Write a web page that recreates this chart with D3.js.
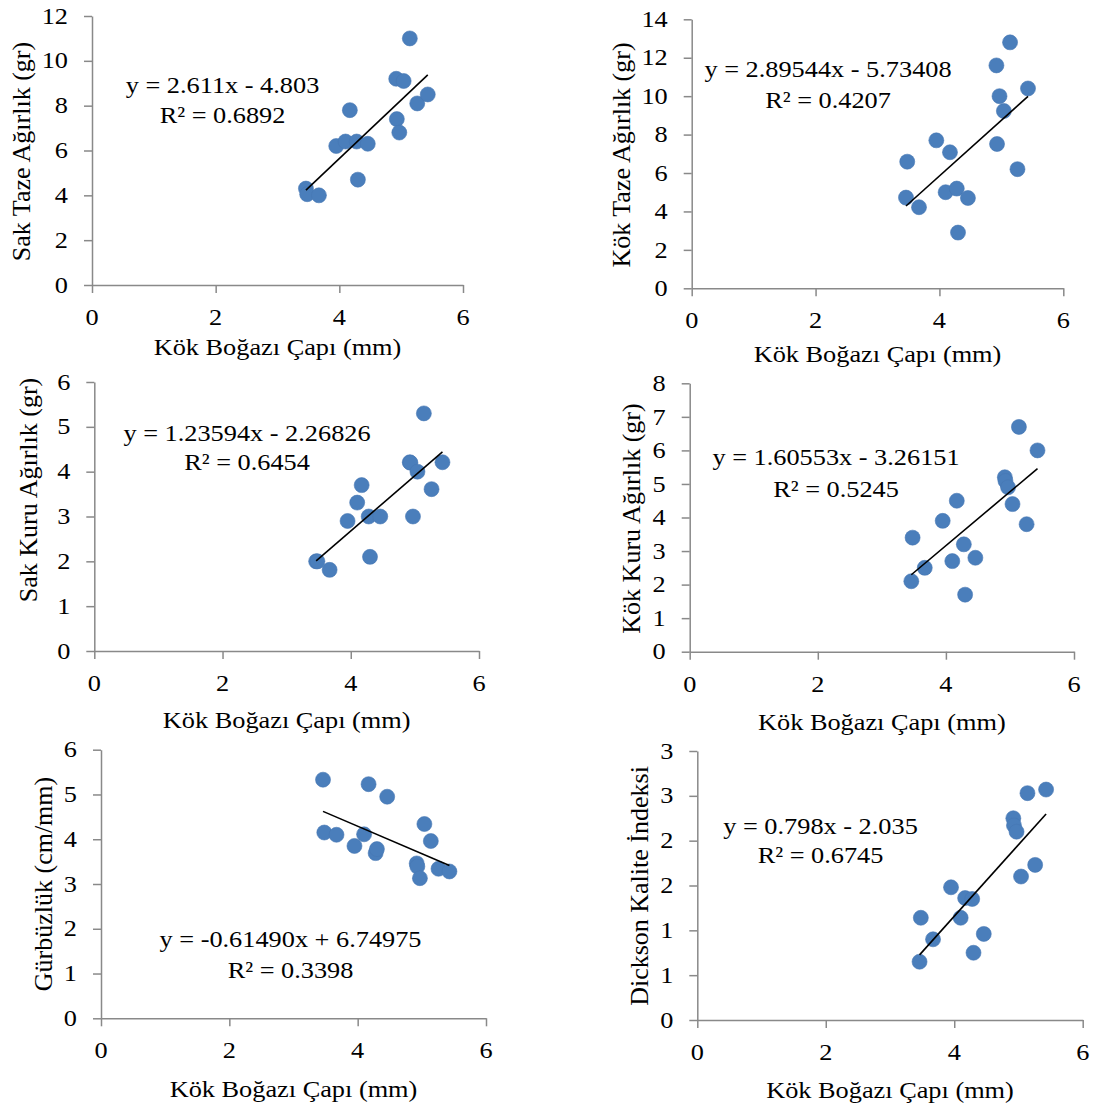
<!DOCTYPE html>
<html><head><meta charset="utf-8">
<script src="https://cdn.jsdelivr.net/npm/d3@7"></script>
<style>body{margin:0;background:#fff}svg{display:block}</style>
</head><body>
<script>
// ---- data ----
const diameter = [3.46,3.48,3.67,3.95,4.10,4.17,4.28,4.30,4.46,4.92,4.93,4.97,5.04,5.14,5.26,5.43];
const sakTaze  = [4.3,4.05,4.0,6.2,6.4,7.8,6.4,4.7,6.3,9.2,7.4,6.8,9.1,11.0,8.1,8.5];
const kokTaze  = [4.72,6.59,4.22,7.7,5.0,7.08,5.19,2.9,4.7,11.6,7.51,10.0,9.23,12.8,6.2,10.4];
const sakKuru  = [2.0,2.0,1.81,2.9,3.31,3.7,3.0,2.1,3.0,4.21,4.2,3.0,4.0,5.3,3.61,4.21];
const kokKuru  = [2.1,3.4,2.5,3.9,2.7,4.5,3.2,1.7,2.8,5.2,5.09,4.9,4.4,6.7,3.8,6.0];
const gurbuzluk= [5.33,4.15,4.10,3.85,4.11,5.23,3.69,3.78,4.95,3.46,3.39,3.13,4.34,3.96,3.34,3.28];
const dickson  = [0.65,1.14,0.90,1.48,1.14,1.36,1.35,0.75,0.96,2.25,2.17,2.10,1.60,2.53,1.73,2.57];

const xTicks = [0,2,4,6];
const yTicksSakTaze = [0,2,4,6,8,10,12];
const yTicksKokTaze = [0,2,4,6,8,10,12,14];
const yTicksSakKuru = [0,1,2,3,4,5,6];
const yTicksKokKuru = [0,1,2,3,4,5,6,7,8];
const yTicksGurb = [0,1,2,3,4,5,6];
const yTicksDickson = [0,0.5,1,1.5,2,2.5,3];
const yLabelsDickson = ["0","1","1","2","2","3","3"];

const xTitle = "Kök Boğazı Çapı (mm)";
const yTitles = ["Sak Taze Ağırlık (gr)","Kök Taze Ağırlık (gr)","Sak Kuru Ağırlık (gr)","Kök Kuru Ağırlık (gr)","Gürbüzlük (cm/mm)","Dickson Kalite İndeksi"];
const slopes = [2.611, 2.89544, 1.23594, 1.60553, -0.61490, 0.798];
const intercepts = [-4.803, -5.73408, -2.26826, -3.26151, 6.74975, -2.035];
const equations = ["y = 2.611x - 4.803","y = 2.89544x - 5.73408","y = 1.23594x - 2.26826","y = 1.60553x - 3.26151","y = -0.61490x + 6.74975","y = 0.798x - 2.035"];
const rSquared = ["R² = 0.6892","R² = 0.4207","R² = 0.6454","R² = 0.5245","R² = 0.3398","R² = 0.6745"];

const seriesY = [sakTaze,kokTaze,sakKuru,kokKuru,gurbuzluk,dickson];
const yTickSets = [yTicksSakTaze,yTicksKokTaze,yTicksSakKuru,yTicksKokKuru,yTicksGurb,yTicksDickson];
const yTickLabelSets = [null,null,null,null,null,yLabelsDickson];

// ---- layout ----
const layout = [
  {l:92,  r:463,   t:16,    b:285,   ytx:29.5, yty:151.5, eqx:222.5, eq1:93.3,  eq2:123.3, xtb:355},
  {l:691.7,r:1063.3,t:19.3, b:288.3, ytx:630,  yty:155,   eqx:828,   eq1:77.3,  eq2:108.3, xtb:362},
  {l:94.3,r:479,   t:382,   b:651,   ytx:36.7, yty:490,   eqx:247,   eq1:440.7, eq2:470,   xtb:728.3},
  {l:689.7,r:1074, t:383.3, b:651.7, ytx:640,  yty:518.5, eqx:836,   eq1:465,   eq2:496.7, xtb:730},
  {l:101, r:486,   t:749.7, b:1018.3,ytx:51.7, yty:884,   eqx:290.5, eq1:946.7, eq2:977.7, xtb:1096.7},
  {l:697.3,r:1082.7,t:751,  b:1020,  ytx:648,  yty:886,   eqx:820.5, eq1:834,   eq2:863.3, xtb:1098}
];
const FONT = "'Liberation Serif','Times New Roman',serif";
const FS = 22.5, SX = 1.17;
const AXIS = "#898989", DOT = "#4a7ebb";

const svg = d3.select("body").append("svg").attr("width",1094).attr("height",1108)
  .style("font-family",FONT);

function txt(g,x,y,s,anchor,rot,fs,sx){
  return g.append("text")
    .attr("transform",`translate(${x},${y}) rotate(${rot||0}) scale(${sx},1)`)
    .attr("text-anchor",anchor).attr("font-size",fs).attr("fill","#000").text(s);
}

layout.forEach((L,i)=>{
  const ys = seriesY[i], ticks = yTickSets[i];
  const ymax = ticks[ticks.length-1];
  const x = d3.scaleLinear().domain([0,6]).range([L.l,L.r]);
  const y = d3.scaleLinear().domain([0,ymax]).range([L.b,L.t]);
  const g = svg.append("g");

  // axes
  const ya = g.append("g").attr("transform",`translate(${L.l},0)`)
    .call(d3.axisLeft(y).tickValues(ticks).tickSize(8).tickSizeOuter(0));
  const xa = g.append("g").attr("transform",`translate(0,${L.b})`)
    .call(d3.axisBottom(x).tickValues(xTicks).tickSize(8).tickSizeOuter(0));
  [ya,xa].forEach(a=>{
    a.select(".domain").attr("stroke",AXIS).attr("stroke-width",1.5);
    a.selectAll(".tick line").attr("stroke",AXIS).attr("stroke-width",1.5);
    a.selectAll(".tick text").remove();
  });
  const labs = yTickLabelSets[i];
  ticks.forEach((t,k)=>{
    txt(g, L.l-24, y(t), labs?labs[k]:String(t), "end",0,FS,SX).attr("dy","0.34em");
  });
  xTicks.forEach(t=>{
    txt(g, x(t), L.b+40, String(t), "middle",0,FS,SX);
  });

  // titles
  txt(g,(L.l+L.r)/2,L.xtb,xTitle,"middle",0,FS,SX);
  txt(g,L.ytx,L.yty,yTitles[i],"middle",-90,26,1);

  // points
  const pts = diameter.map((d,k)=>({x:d,y:ys[k]}));
  g.append("g").selectAll("circle").data(pts).join("circle")
    .attr("cx",d=>x(d.x)).attr("cy",d=>y(d.y)).attr("r",7.5)
    .attr("fill",DOT).attr("stroke","#4677b3").attr("stroke-width",0.6);

  // trendline
  const [x0,x1] = d3.extent(diameter);
  const f = v => slopes[i]*v + intercepts[i];
  g.append("path").attr("d",d3.line()([[x(x0),y(f(x0))],[x(x1),y(f(x1))]]))
    .attr("stroke","#000").attr("stroke-width",1.6).attr("fill","none");

  // equation
  txt(g,L.eqx,L.eq1,equations[i],"middle",0,FS,SX);
  txt(g,L.eqx,L.eq2,rSquared[i],"middle",0,FS,SX);
});
</script>
</body></html>
